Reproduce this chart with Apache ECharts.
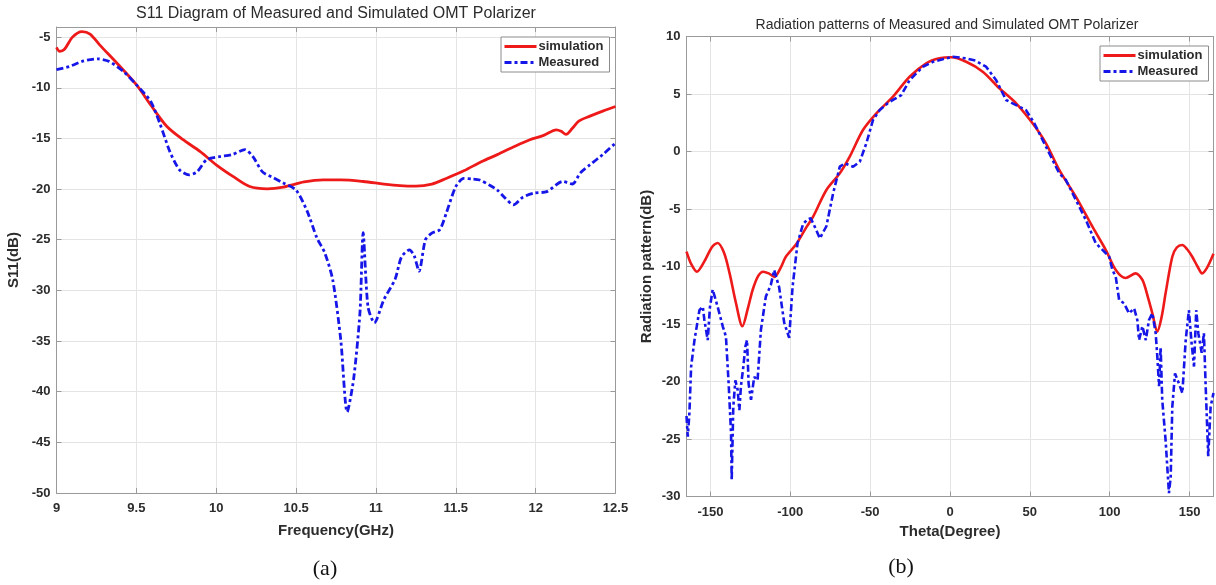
<!DOCTYPE html>
<html>
<head>
<meta charset="utf-8">
<title>OMT Polarizer: S11 and radiation pattern</title>
<script src="https://cdn.jsdelivr.net/npm/echarts@6.0.0/dist/echarts.min.js"></script>
<style>
  html, body { margin: 0; padding: 0; background: #ffffff; }
  #chart { width: 1216px; height: 585px; }
</style>
</head>
<body>
<div id="chart"></div>
<script>
// ---- (a) S11 versus frequency ----
const simFreq = [9.0, 9.02, 9.05, 9.1, 9.16, 9.21, 9.27, 9.38, 9.5, 9.59,
  9.69, 9.79, 9.9, 10.0, 10.11, 10.21, 10.32, 10.42, 10.55, 10.67,
  10.78, 10.92, 11.05, 11.15, 11.25, 11.35, 11.44, 11.55, 11.66, 11.76,
  11.86, 11.96, 12.05, 12.13, 12.16, 12.19, 12.23, 12.27, 12.34, 12.42, 12.5];
const simS11 = [-6.0, -6.4, -6.2, -5.0, -4.45, -4.7, -5.76, -7.6, -9.7, -11.7,
  -13.8, -15.1, -16.3, -17.6, -18.8, -19.75, -19.97, -19.8, -19.3, -19.1,
  -19.1, -19.25, -19.5, -19.65, -19.7, -19.5, -18.95, -18.2, -17.3, -16.6,
  -15.85, -15.15, -14.7, -14.15, -14.3, -14.6, -14.0, -13.3, -12.8, -12.3, -11.85];

const measFreq = [9.0, 9.08, 9.17, 9.26, 9.33, 9.42, 9.5, 9.59, 9.65, 9.71,
  9.77, 9.83, 9.88, 9.94, 10.02, 10.1, 10.18, 10.23, 10.29, 10.36,
  10.42, 10.5, 10.57, 10.63, 10.68, 10.73, 10.78, 10.82, 10.86, 10.9,
  10.92, 10.95, 10.99, 11.05, 11.12, 11.16, 11.21, 11.24, 11.27, 11.31,
  11.35, 11.4, 11.44, 11.5, 11.55, 11.6, 11.65, 11.71, 11.76, 11.81,
  11.86, 11.92, 11.99, 12.07, 12.17, 12.23, 12.28, 12.34, 12.42, 12.5];
const measS11 = [-8.2, -7.9, -7.35, -7.15, -7.4, -8.4, -9.7, -11.35, -13.65, -16.3,
  -18.1, -18.6, -18.3, -17.1, -16.8, -16.6, -16.1, -16.8, -18.3, -18.9,
  -19.4, -20.1, -22.2, -24.8, -26.3, -29.0, -34.9, -42.0, -38.8, -32.2,
  -24.3, -31.6, -33.2, -30.9, -28.9, -26.7, -26.0, -26.6, -28.1, -25.0,
  -24.35, -24.0, -22.4, -19.75, -18.95, -19.0, -19.1, -19.6, -20.1, -20.9,
  -21.55, -20.8, -20.4, -20.25, -19.25, -19.5, -18.4, -17.6, -16.6, -15.45];

// ---- (b) radiation pattern versus theta ----
const simTheta = [-165, -162, -158.5, -154, -149, -145.5, -141.5, -138, -134, -130,
  -126.5, -123.5, -120, -117, -113.5, -110, -106, -102.8, -96, -90,
  -85.7, -77.4, -69, -62.8, -54.5, -46.1, -35.7, -25.3, -14.9, -6.6,
  0.7, 10.1, 20.5, 30.9, 41.4, 51.7, 60.1, 68.4, 78.8, 89.2,
  97.6, 103.8, 110, 116.3, 120.5, 124, 126.7, 129.8, 132.5, 135,
  139.2, 142, 145.4, 148.5, 151.7, 155, 157.9, 161, 165];
const simPattern = [-8.7, -9.8, -10.45, -9.6, -8.3, -7.95, -8.8, -10.6, -13.2, -15.2,
  -13.6, -12.0, -10.8, -10.45, -10.6, -10.9, -10.1, -9.15, -8.0, -6.6,
  -5.67, -3.35, -1.9, -0.45, 1.87, 3.32, 4.77, 6.5, 7.67, 8.1,
  8.19, 7.8, 6.94, 5.5, 4.19, 2.45, 0.71, -1.6, -3.93, -6.54,
  -8.57, -10.3, -11.0, -10.6, -11.17, -12.7, -14.07, -15.67, -14.4, -12.33,
  -9.15, -8.35, -8.13, -8.5, -9.15, -10.0, -10.6, -10.1, -8.9];

const measTheta = [-165, -164.2, -163.2, -162.1, -160, -156.9, -154.8, -153.8, -151.7, -150.3,
  -148.6, -145.5, -142.3, -140.3, -138.6, -137.1, -136.7, -135.7, -134.4, -133,
  -131.9, -130.9, -129.4, -128.2, -127.1, -126.1, -124.6, -122.6, -120.5, -118.4,
  -115.3, -112.2, -110.1, -107, -103.8, -100.7, -98.6, -95.5, -92, -89.2,
  -87.2, -84.5, -81.5, -77.4, -73.2, -69, -65.9, -60.7, -56.5, -52.4,
  -48.2, -44, -39, -35.7, -30.5, -25.3, -17, -10.7, -4, 1.7,
  10.1, 16, 22.6, 28.9, 35.1, 41.4, 47.6, 52.8, 60.1, 68.4,
  72.6, 78.8, 85.1, 91.3, 97.6, 99.7, 101.7, 103.8, 105.9, 109,
  112.1, 115.3, 117.3, 118.4, 120.5, 122.6, 124.6, 126.7, 128.8, 129.8,
  130.9, 131.9, 132.9, 135, 137.1, 138.2, 139.2, 140.9, 143.4, 145.5,
  147.6, 149.6, 151.3, 152.8, 154.2, 155.5, 157.6, 159, 160.1, 161.7,
  163.2, 165];
const measPattern = [-23.0, -24.8, -22.8, -18.7, -16.4, -13.8, -13.5, -14.65, -16.4, -13.5,
  -12.0, -13.5, -15.2, -16.1, -20.2, -24.5, -28.6, -22.2, -19.9, -20.7,
  -22.5, -20.4, -18.7, -17.0, -16.4, -20.2, -21.6, -19.6, -19.9, -15.5,
  -12.6, -11.6, -10.3, -11.8, -14.9, -16.2, -11.8, -8.0, -6.3, -5.9,
  -5.8, -6.6, -7.55, -6.5, -3.64, -1.32, -1.03, -1.32, -0.89, 0.71,
  2.74, 3.6, 4.2, 4.48, 4.91, 6.2, 7.37, 7.8, 8.05, 8.24,
  8.1, 7.9, 7.37, 6.2, 4.48, 4.04, 3.6, 2.45, 0.42, -1.9,
  -2.48, -4.2, -5.96, -7.98, -8.85, -9.15, -10.3, -10.9, -12.9, -13.2,
  -14.07, -13.64, -14.65, -16.4, -15.2, -16.4, -14.65, -14.07, -15.8, -17.8,
  -20.4, -17.0, -21.6, -25.1, -29.7, -28.3, -22.2, -19.3, -20.2, -21.0,
  -16.4, -13.8, -16.7, -18.7, -13.8, -15.8, -17.5, -15.8, -20.4, -26.5,
  -22.2, -21.0];

// tick values of the theta axis
const thetaTicks = [-150, -100, -50, 0, 50, 100, 150];

const legendNames = ['simulation', 'Measured'];

const pairs = (xs, ys) => xs.map((x, i) => [x, ys[i]]);

const FONT = '"Liberation Sans", Arial, Helvetica, sans-serif';
const RED = '#ee1a1a';
const BLUE = '#1616e8';
const BOX = '#9a9a9a';
const GRIDLINE = '#e4e4e4';
const TEXT = '#2c2c2c';

const tickLabel = { color: TEXT, fontFamily: FONT, fontWeight: 'bold', fontSize: 13 };
const axisName = { color: TEXT, fontFamily: FONT, fontWeight: 'bold', fontSize: 15 };

// main (labelled) axis
function mainAxis(extra) {
  return Object.assign({
    type: 'value',
    axisLine: { show: true, onZero: false, lineStyle: { color: BOX, width: 1 } },
    axisTick: { show: true, inside: true, length: 5, lineStyle: { color: BOX } },
    splitLine: { show: true, lineStyle: { color: GRIDLINE, width: 1 } },
    nameLocation: 'middle',
    nameTextStyle: axisName
  }, extra);
}
// opposite side of the box: line and inward ticks only
function boxAxis(extra) {
  return Object.assign({
    type: 'value',
    axisLine: { show: true, onZero: false, lineStyle: { color: BOX, width: 1 } },
    axisTick: { show: true, inside: true, length: 5, lineStyle: { color: BOX } },
    axisLabel: { show: false },
    splitLine: { show: false }
  }, extra);
}

// legend entries show only the line sample (no marker)
const legendBase = {
  data: legendNames,
  orient: 'vertical',
  itemWidth: 32,
  itemHeight: 14,
  itemGap: 3,
  padding: [3, 6, 3, 2],
  borderColor: '#8c8c8c',
  borderWidth: 1,
  backgroundColor: '#ffffff',
  selectedMode: false,
  itemStyle: { opacity: 0, borderWidth: 0 },
  lineStyle: { width: 3 },
  textStyle: { color: TEXT, fontFamily: FONT, fontWeight: 'bold', fontSize: 13, padding: [0, 0, 0, -3] },
  z: 10
};

const chart = echarts.init(document.getElementById('chart'), null, { renderer: 'canvas' });

chart.setOption({
  animation: false,
  backgroundColor: '#ffffff',
  grid: [
    { left: 56.5, top: 27, width: 559, height: 466, containLabel: false },
    { left: 686.5, top: 36.5, width: 527, height: 460, containLabel: false }
  ],
  legend: [
    Object.assign({}, legendBase, { left: 501, top: 37 }),
    Object.assign({}, legendBase, { left: 1100, top: 46 })
  ],
  xAxis: [
    mainAxis({ gridIndex: 0, position: 'bottom', min: 9, max: 12.5, interval: 0.5,
      name: 'Frequency(GHz)', nameGap: 30,
      axisLabel: Object.assign({ margin: 9 }, tickLabel) }),
    boxAxis({ gridIndex: 0, position: 'top', min: 9, max: 12.5, interval: 0.5 }),
    mainAxis({ gridIndex: 1, position: 'bottom', min: -165, max: 165,
      name: 'Theta(Degree)', nameGap: 28,
      axisTick: { show: true, inside: true, length: 5, lineStyle: { color: BOX }, customValues: thetaTicks },
      axisLabel: Object.assign({ margin: 9, customValues: thetaTicks }, tickLabel) }),
    boxAxis({ gridIndex: 1, position: 'top', min: -165, max: 165,
      axisTick: { show: true, inside: true, length: 5, lineStyle: { color: BOX }, customValues: thetaTicks } })
  ],
  yAxis: [
    mainAxis({ gridIndex: 0, position: 'left', min: -50, max: -4, interval: 5,
      name: 'S11(dB)', nameGap: 35, nameRotate: 90,
      axisLabel: Object.assign({ margin: 6, showMaxLabel: false }, tickLabel) }),
    boxAxis({ gridIndex: 0, position: 'right', min: -50, max: -4, interval: 5 }),
    mainAxis({ gridIndex: 1, position: 'left', min: -30, max: 10, interval: 5,
      name: 'Radiation pattern(dB)', nameGap: 32, nameRotate: 90,
      axisLabel: Object.assign({ margin: 6 }, tickLabel) }),
    boxAxis({ gridIndex: 1, position: 'right', min: -30, max: 10, interval: 5 })
  ],
  series: [
    { name: 'simulation', type: 'line', xAxisIndex: 0, yAxisIndex: 0,
      data: pairs(simFreq, simS11), symbol: 'none', smooth: 0.3,
      lineStyle: { color: RED, width: 2.8 }, itemStyle: { color: RED }, z: 3 },
    { name: 'Measured', type: 'line', xAxisIndex: 0, yAxisIndex: 0,
      data: pairs(measFreq, measS11), symbol: 'none', smooth: 0.25,
      lineStyle: { color: BLUE, width: 2.8, type: [7, 3, 3, 3] }, itemStyle: { color: BLUE }, z: 4 },
    { name: 'simulation', type: 'line', xAxisIndex: 2, yAxisIndex: 2,
      data: pairs(simTheta, simPattern), symbol: 'none', smooth: 0.3,
      lineStyle: { color: RED, width: 2.6 }, itemStyle: { color: RED }, z: 3 },
    { name: 'Measured', type: 'line', xAxisIndex: 2, yAxisIndex: 2,
      data: pairs(measTheta, measPattern), symbol: 'none', smooth: false,
      lineStyle: { color: BLUE, width: 2.6, type: [7, 3, 3, 3] }, itemStyle: { color: BLUE }, z: 4 }
  ],
  graphic: [
    { type: 'text', x: 336, y: 14, z: 20,
      style: { text: 'S11 Diagram of Measured and Simulated OMT Polarizer',
        align: 'center', verticalAlign: 'middle', fill: TEXT,
        fontFamily: FONT, fontSize: 16, fontWeight: 'normal' } },
    { type: 'text', x: 947, y: 25, z: 20,
      style: { text: 'Radiation patterns of Measured and Simulated OMT Polarizer',
        align: 'center', verticalAlign: 'middle', fill: TEXT,
        fontFamily: FONT, fontSize: 14, fontWeight: 'normal' } },
    { type: 'text', x: 325, y: 569, z: 20,
      style: { text: '(a)', align: 'center', verticalAlign: 'middle', fill: '#111',
        fontFamily: '"Liberation Serif", "DejaVu Serif", serif', fontSize: 22 } },
    { type: 'text', x: 901, y: 567, z: 20,
      style: { text: '(b)', align: 'center', verticalAlign: 'middle', fill: '#111',
        fontFamily: '"Liberation Serif", "DejaVu Serif", serif', fontSize: 22 } }
  ]
});
</script>
</body>
</html>
